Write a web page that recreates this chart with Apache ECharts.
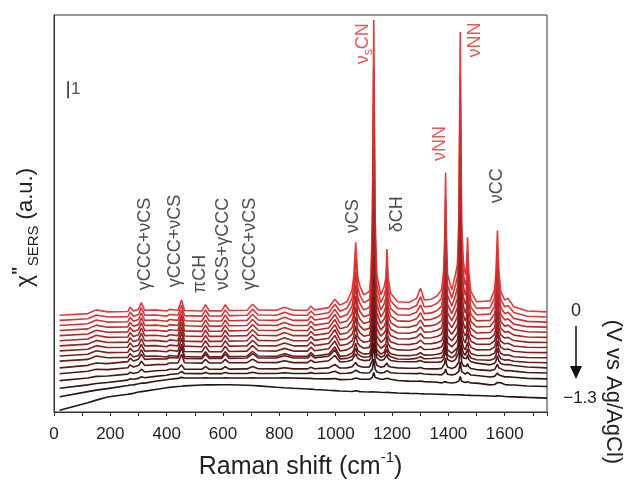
<!DOCTYPE html>
<html>
<head>
<meta charset="utf-8">
<script src="https://cdn.jsdelivr.net/npm/echarts@6/dist/echarts.min.js"></script>
<style>
  html, body { margin: 0; padding: 0; background: #fff; }
  #chart { width: 624px; height: 491px; }
</style>
</head>
<body>
<div id="chart"></div>
<script>
// Raman shift grid (cm-1) shared by all spectra
const ramanShift = [20,120,150,190,262,270,282,300,310,322,360,400,410,440,453,463,525,538,551,595,608,622,685,705,725,790,818,850,900,912,925,975,997,
  1015,1040,1058,1064,1071,1078,1086,1100,1120,1125,1130,1135,1140,1146,1160,1172,1178,1182,1186,1195,
  1220,1260,1287,1301,1314,1340,1360,
  1376,1383,1387,1390,1393,1397,1412,1425,1432,1437,1442,1447,1453,1460,1464,1468,1472,1480,1500,
  1548,1564,1569,1574,1579,1586,1600,1612,1632,1680,1750];

// stacked spectra, 0 V (top) to -1.3 V (bottom) (a.u.)
const spec00 = [5.7,5.8,6.02,5.9,5.92,6.18,5.95,6.05,6.45,6.0,6.02,5.95,6.05,6.0,6.6,5.98,5.95,6.32,5.96,5.96,6.32,5.98,6.0,6.35,6.02,6.0,6.18,6.0,6.0,6.25,6.02,6.15,6.65,
  6.3,6.5,7.2,8.0,10.0,8.0,7.4,6.9,7.1,8.1,11.4,23.1,11.4,8.1,6.9,7.4,7.9,9.6,7.9,7.0,
  6.5,6.45,6.7,7.3,6.6,6.65,6.85,
  7.2,8.3,10.4,14.1,10.4,8.1,7.2,8.1,8.7,11.4,22.4,11.1,8.9,8.1,8.5,10.3,8.3,7.1,6.5,
  6.55,7.2,8.3,10.7,8.3,7.1,6.6,6.7,6.2,5.95,5.9];
const spec01 = [5.4,5.5,5.72,5.6,5.62,5.88,5.65,5.75,6.15,5.7,5.72,5.65,5.75,5.7,6.3,5.68,5.65,6.02,5.66,5.66,6.02,5.68,5.7,6.05,5.72,5.7,5.88,5.7,5.7,5.95,5.72,5.85,6.35,
  5.94,6.11,6.71,7.39,9.09,7.39,6.88,6.45,6.62,7.47,10.28,20.22,10.28,7.47,6.45,6.88,7.3,8.75,7.3,6.54,
  6.11,6.07,6.28,6.79,6.2,6.24,6.41,
  6.71,7.64,9.43,12.57,9.43,7.47,6.71,7.47,7.98,10.28,19.63,10.02,8.15,7.47,7.81,9.34,7.64,6.62,6.11,
  6.15,6.71,7.64,9.68,7.64,6.62,6.2,6.28,5.86,5.64,5.6];
const spec02 = [5.1,5.2,5.42,5.3,5.32,5.58,5.35,5.45,5.85,5.4,5.42,5.35,5.45,5.4,6.0,5.38,5.35,5.72,5.36,5.36,5.72,5.38,5.4,5.75,5.42,5.4,5.58,5.4,5.4,5.65,5.42,5.55,6.05,
  5.59,5.73,6.24,6.81,8.25,6.81,6.38,6.02,6.16,6.88,9.26,17.68,9.26,6.88,6.02,6.38,6.74,7.96,6.74,6.09,
  5.73,5.7,5.88,6.31,5.8,5.84,5.98,
  6.24,7.03,8.54,11.2,8.54,6.88,6.24,6.88,7.32,9.26,17.18,9.04,7.46,6.88,7.17,8.47,7.03,6.16,5.73,
  5.77,6.24,7.03,8.76,7.03,6.16,5.8,5.88,5.52,5.34,5.3];
const spec03 = [4.8,4.9,5.12,5.0,5.02,5.28,5.05,5.15,5.55,5.1,5.12,5.05,5.15,5.1,5.75,5.08,5.05,5.42,5.06,5.06,5.42,5.08,5.1,5.45,5.12,5.1,5.28,5.1,5.1,5.35,5.12,5.25,5.75,
  5.24,5.37,5.79,6.28,7.5,6.28,5.92,5.61,5.73,6.34,8.36,15.49,8.36,6.34,5.61,5.92,6.22,7.26,6.22,5.67,
  5.37,5.34,5.49,5.85,5.43,5.46,5.58,
  5.79,6.46,7.75,10.0,7.75,6.34,5.79,6.34,6.71,8.36,15.07,8.17,6.83,6.34,6.59,7.68,6.46,5.73,5.37,
  5.4,5.79,6.46,7.93,6.46,5.73,5.43,5.49,5.18,5.03,5.0];
const spec04 = [4.5,4.6,4.82,4.7,4.72,4.98,4.75,4.85,5.25,4.8,4.82,4.75,4.85,4.8,5.6,4.78,4.75,5.12,4.76,4.76,5.12,4.78,4.8,5.15,4.82,4.8,4.98,4.8,4.8,5.05,4.82,4.95,5.45,
  4.91,5.01,5.38,5.79,6.83,5.79,5.48,5.22,5.32,5.84,7.56,13.64,7.56,5.84,5.22,5.48,5.74,6.62,5.74,5.27,
  5.01,4.99,5.12,5.43,5.06,5.09,5.19,
  5.38,5.95,7.04,8.96,7.04,5.84,5.38,5.84,6.16,7.56,13.28,7.4,6.26,5.84,6.05,6.99,5.95,5.32,5.01,
  5.04,5.38,5.95,7.2,5.95,5.32,5.06,5.12,4.86,4.73,4.7];
const spec05 = [4.2,4.3,4.52,4.4,4.42,4.68,4.45,4.55,4.95,4.5,4.52,4.45,4.55,4.5,5.3,4.48,4.45,4.82,4.46,4.46,4.82,4.48,4.5,4.85,4.52,4.5,4.68,4.5,4.5,4.75,4.52,4.65,5.15,
  4.58,4.66,4.97,5.32,6.2,5.32,5.06,4.84,4.93,5.37,6.82,11.97,6.82,5.37,4.84,5.06,5.28,6.03,5.28,4.88,
  4.66,4.64,4.75,5.02,4.71,4.73,4.82,
  4.97,5.46,6.38,8.01,6.38,5.37,4.97,5.37,5.63,6.82,11.66,6.69,5.72,5.37,5.54,6.34,5.46,4.93,4.66,
  4.69,4.97,5.46,6.51,5.46,4.93,4.71,4.75,4.53,4.42,4.4];
const spec06 = [3.9,4.0,4.22,4.1,4.12,4.38,4.15,4.25,4.65,4.2,4.22,4.15,4.25,4.2,5.0,4.18,4.15,4.52,4.16,4.16,4.52,4.18,4.2,4.55,4.22,4.2,4.38,4.2,4.2,4.45,4.22,4.35,4.85,
  4.25,4.32,4.58,4.88,5.62,4.88,4.66,4.47,4.54,4.91,6.14,10.46,6.14,4.91,4.47,4.66,4.84,5.47,4.84,4.51,
  4.32,4.3,4.4,4.62,4.36,4.38,4.45,
  4.58,4.99,5.77,7.13,5.77,4.91,4.58,4.91,5.14,6.14,10.21,6.02,5.21,4.91,5.06,5.73,4.99,4.54,4.32,
  4.34,4.58,4.99,5.88,4.99,4.54,4.36,4.4,4.21,4.12,4.1];
const spec07 = [3.6,3.7,3.91,3.8,3.82,4.07,3.85,3.94,4.32,3.9,3.91,3.85,3.94,3.9,4.7,3.88,3.85,4.2,3.86,3.86,4.2,3.88,3.9,4.23,3.91,3.9,4.07,3.9,3.9,4.13,3.91,4.04,4.51,
  3.92,3.99,4.2,4.45,5.07,4.45,4.27,4.11,4.17,4.48,5.51,9.13,5.51,4.48,4.11,4.27,4.42,4.95,4.42,4.14,
  3.99,3.97,4.05,4.23,4.02,4.03,4.09,
  4.2,4.54,5.2,6.34,5.2,4.48,4.2,4.48,4.67,5.51,8.92,5.41,4.73,4.48,4.61,5.16,4.54,4.17,3.99,
  4.0,4.2,4.54,5.29,4.54,4.17,4.02,4.05,3.89,3.82,3.8];
const spec08 = [3.3,3.4,3.61,3.5,3.52,3.75,3.55,3.64,4.0,3.59,3.61,3.55,3.64,3.59,4.35,3.57,3.55,3.88,3.55,3.55,3.88,3.57,3.59,3.91,3.61,3.59,3.75,3.59,3.59,3.82,3.61,3.73,4.18,
  3.6,3.66,3.84,4.05,4.57,4.05,3.89,3.76,3.81,4.07,4.93,7.97,4.93,4.07,3.76,3.89,4.02,4.46,4.02,3.79,
  3.66,3.64,3.71,3.86,3.68,3.7,3.75,
  3.84,4.12,4.67,5.63,4.67,4.07,3.84,4.07,4.23,4.93,7.79,4.85,4.28,4.07,4.18,4.64,4.12,3.81,3.66,
  3.67,3.84,4.12,4.75,4.12,3.81,3.68,3.71,3.58,3.51,3.5];
const spec09 = [3.0,3.1,3.3,3.2,3.22,3.44,3.24,3.33,3.67,3.29,3.3,3.24,3.33,3.29,4.0,3.27,3.24,3.56,3.25,3.25,3.56,3.27,3.29,3.58,3.3,3.29,3.44,3.29,3.29,3.5,3.3,3.41,3.84,
  3.28,3.33,3.47,3.64,4.06,3.64,3.52,3.41,3.45,3.66,4.36,6.81,4.36,3.66,3.41,3.52,3.62,3.98,3.62,3.43,
  3.33,3.32,3.37,3.49,3.35,3.36,3.4,
  3.47,3.7,4.15,4.92,4.15,3.66,3.47,3.66,3.79,4.36,6.67,4.29,3.83,3.66,3.75,4.12,3.7,3.45,3.33,
  3.34,3.47,3.7,4.21,3.7,3.45,3.35,3.37,3.26,3.21,3.2];
const spec10 = [2.6,2.75,2.89,2.85,2.97,3.17,3.01,3.11,3.41,3.1,3.14,3.12,3.21,3.18,3.8,3.16,3.14,3.42,3.15,3.15,3.42,3.16,3.18,3.44,3.19,3.18,3.31,3.18,3.18,3.36,3.19,3.29,3.66,
  3.13,3.16,3.28,3.42,3.76,3.42,3.32,3.23,3.26,3.43,4.0,5.98,4.0,3.43,3.23,3.32,3.4,3.69,3.4,3.25,
  3.12,3.11,3.16,3.26,3.14,3.15,3.18,
  3.2,3.39,3.75,4.37,3.75,3.35,3.2,3.35,3.46,3.92,5.79,3.86,3.49,3.35,3.42,3.73,3.39,3.18,3.08,
  3.05,3.16,3.35,3.76,3.35,3.14,3.06,3.08,2.99,2.93,2.9];
const spec11 = [2.25,2.4,2.52,2.5,2.61,2.78,2.65,2.74,2.99,2.74,2.79,2.81,2.89,2.89,3.4,2.9,2.88,3.1,2.89,2.89,3.1,2.9,2.91,3.12,2.92,2.91,3.02,2.91,2.91,3.06,2.92,3.02,3.33,
  2.95,2.98,3.07,3.17,3.43,3.17,3.1,3.03,3.06,3.19,3.62,5.14,3.62,3.19,3.03,3.1,3.16,3.38,3.16,3.04,
  2.98,2.96,2.97,3.04,2.94,2.93,2.93,
  2.97,3.11,3.39,3.87,3.39,3.09,2.97,3.09,3.16,3.52,4.95,3.48,3.19,3.09,3.14,3.37,3.11,2.96,2.88,
  2.78,2.87,3.01,3.32,3.01,2.86,2.79,2.8,2.74,2.65,2.6];
const spec12 = [1.85,2.0,2.1,2.12,2.23,2.34,2.27,2.34,2.52,2.36,2.43,2.46,2.52,2.53,2.78,2.53,2.52,2.67,2.52,2.52,2.67,2.53,2.54,2.68,2.55,2.54,2.61,2.54,2.54,2.64,2.55,2.6,2.8,
  2.59,2.6,2.67,2.74,2.92,2.74,2.69,2.64,2.66,2.75,3.05,4.1,3.05,2.75,2.64,2.69,2.73,2.88,2.73,2.65,
  2.6,2.58,2.58,2.63,2.55,2.54,2.54,
  2.57,2.67,2.86,3.19,2.86,2.65,2.57,2.65,2.7,2.95,3.94,2.92,2.72,2.65,2.68,2.85,2.67,2.56,2.5,
  2.44,2.5,2.6,2.81,2.6,2.49,2.44,2.45,2.41,2.33,2.3];
const spec13 = [1.4,1.6,1.68,1.74,1.88,1.96,1.93,1.98,2.08,2.02,2.1,2.17,2.21,2.25,2.39,2.27,2.26,2.33,2.26,2.26,2.33,2.27,2.27,2.34,2.27,2.27,2.31,2.27,2.27,2.32,2.27,2.3,2.4,
  2.27,2.28,2.32,2.36,2.46,2.36,2.33,2.3,2.31,2.36,2.53,3.11,2.53,2.36,2.3,2.33,2.35,2.44,2.35,2.31,
  2.28,2.27,2.26,2.28,2.24,2.22,2.21,
  2.19,2.24,2.35,2.53,2.35,2.23,2.19,2.23,2.26,2.4,2.95,2.38,2.27,2.23,2.25,2.34,2.24,2.18,2.15,
  2.06,2.1,2.15,2.3,2.18,2.12,2.07,2.07,2.05,1.98,1.95];
const spec14 = [0.9,1.2,1.29,1.38,1.56,1.59,1.6,1.66,1.7,1.7,1.81,1.9,1.93,1.98,2.04,2.0,2.0,2.02,2.0,2.0,2.02,2.0,2.0,2.02,2.0,2.0,2.01,2.0,1.98,1.98,1.96,1.95,1.97,
  1.91,1.92,1.93,1.95,2.0,1.95,1.94,1.93,1.93,1.96,2.04,2.33,2.04,1.96,1.93,1.94,1.95,1.99,1.95,1.93,
  1.86,1.82,1.81,1.82,1.79,1.77,1.75,
  1.71,1.74,1.79,1.89,1.79,1.74,1.71,1.74,1.75,1.82,2.09,1.81,1.76,1.74,1.75,1.79,1.74,1.71,1.7,
  1.6,1.62,1.66,1.74,1.78,1.72,1.62,1.6,1.59,1.53,1.5];
const spec15 = [0.1,0.55,0.7,0.88,1.05,1.07,1.1,1.18,1.2,1.23,1.33,1.43,1.45,1.5,1.52,1.54,1.59,1.6,1.6,1.61,1.61,1.61,1.58,1.56,1.54,1.46,1.43,1.4,1.36,1.35,1.33,1.28,1.26,
  1.24,1.22,1.21,1.21,1.25,1.21,1.2,1.19,1.18,1.18,1.19,1.22,1.18,1.17,1.16,1.15,1.15,1.16,1.14,1.14,
  1.12,1.1,1.09,1.08,1.07,1.06,1.05,
  1.04,1.04,1.05,1.06,1.04,1.03,1.02,1.02,1.01,1.02,1.05,1.01,1.0,0.99,0.99,0.99,0.98,0.98,0.97,
  0.94,0.93,0.94,0.95,0.95,0.94,0.91,0.9,0.89,0.86,0.82];

const spectra = [spec00, spec01, spec02, spec03, spec04, spec05, spec06, spec07,
  spec08, spec09, spec10, spec11, spec12, spec13, spec14, spec15];

// band assignments written above the peaks
const bandNames = ['γCCC+νCS', 'γCCC+νCS', 'πCH', 'νCS+γCCC', 'γCCC+νCS', 'νCS', 'δCH', 'νCC', '{a|ν}{s|s}{a|CN}', 'νNN', 'νNN'];
const bandX = [323, 429, 518, 599, 695, 1060, 1216, 1574, 1096, 1369, 1493];
const bandY = [7.18, 7.35, 7.0, 7.18, 7.18, 10.53, 10.6, 12.3, 20.5, 14.8, 20.9];
const bandRed = [false, false, false, false, false, false, false, false, true, true, true];

const lineColors = ['#e13b3b', '#d83636', '#cd3232', '#c12e2e', '#b42a2a', '#a72727', '#992323', '#8b2020',
  '#7d1d1d', '#6f1b1b', '#611919', '#531717', '#451616', '#381515', '#2b1414', '#1f1616'];

const FONT = 'Liberation Sans, Arial, sans-serif';
const chart = echarts.init(document.getElementById('chart'));

const seriesList = spectra.map((row, i) => ({
  type: 'line',
  name: 'spec' + i,
  data: row.map((v, k) => [ramanShift[k], v]),
  showSymbol: false,
  smooth: false,
  lineStyle: { color: lineColors[i], width: 1.6 },
  silent: true
}));

// scale bar of 1 a.u.
seriesList.push({
  type: 'line',
  data: [[50, 18.5], [50, 19.5]],
  showSymbol: false,
  lineStyle: { color: '#222', width: 1.5 },
  silent: true
});
seriesList.push({
  type: 'scatter',
  data: [[50, 19.0]],
  symbolSize: 0,
  label: { show: true, formatter: '1', position: 'right', distance: 3, fontSize: 17, color: '#222', fontFamily: FONT },
  silent: true
});

seriesList.push({
  type: 'scatter',
  symbolSize: 0,
  silent: true,
  data: bandNames.map((t, i) => ({
    value: [bandX[i], bandY[i]],
    label: { formatter: t, color: bandRed[i] ? '#d93030' : '#222' }
  })),
  label: {
    show: true,
    position: [0, 0],
    rotate: 90,
    align: 'left',
    verticalAlign: 'middle',
    fontSize: 18,
    fontFamily: FONT,
    rich: {
      a: { fontSize: 18, fontFamily: FONT },
      s: { fontSize: 12, fontFamily: FONT, verticalAlign: 'bottom', lineHeight: 24 }
    }
  }
});

chart.setOption({
  animation: false,
  backgroundColor: '#fff',
  grid: { left: 54, right: 77, top: 15, bottom: 79, outerBoundsMode: 'none', show: true, borderColor: '#333', borderWidth: 1 },
  xAxis: {
    type: 'value',
    min: 0,
    max: 1750,
    interval: 100,
    name: '{t|Raman shift (cm}{sup|-1}{t|)}',
    nameLocation: 'middle',
    nameGap: 38,
    nameTextStyle: {
      rich: {
        t: { fontSize: 25, fontFamily: FONT, color: '#222' },
        sup: { fontSize: 15, fontFamily: FONT, color: '#222', verticalAlign: 'top', lineHeight: 34 }
      }
    },
    axisLine: { lineStyle: { color: '#333', width: 1 } },
    axisTick: { length: 4, lineStyle: { color: '#333' } },
    axisLabel: {
      fontSize: 17,
      fontFamily: FONT,
      color: '#222',
      margin: 14,
      formatter: v => (v % 200 === 0 ? String(v) : '')
    },
    splitLine: { show: false }
  },
  yAxis: {
    type: 'value',
    min: 0,
    max: 23.4,
    name: '{chi|χ}{dp|"}{sub|SERS}{t| (a.u.)}',
    nameLocation: 'middle',
    nameRotate: 90,
    nameGap: 13,
    nameTextStyle: {
      padding: [0, 28, 0, 0],
      rich: {
        chi: { fontSize: 23, fontFamily: FONT, color: '#222' },
        dp: { fontSize: 18, fontFamily: FONT, color: '#222', fontWeight: 'bold', verticalAlign: 'top', lineHeight: 30 },
        sub: { fontSize: 15, fontFamily: FONT, color: '#222', verticalAlign: 'bottom', lineHeight: 30 },
        t: { fontSize: 22, fontFamily: FONT, color: '#222' }
      }
    },
    axisLine: { show: true, lineStyle: { color: '#333' } },
    axisTick: { show: false },
    axisLabel: { show: false },
    splitLine: { show: false }
  },
  graphic: [
    { type: 'text', x: 576, y: 311, style: { text: '0', fontSize: 18, fontFamily: FONT, fill: '#222', align: 'center', verticalAlign: 'middle' } },
    { type: 'line', shape: { x1: 576, y1: 326, x2: 576, y2: 368 }, style: { stroke: '#111', lineWidth: 1.5 } },
    { type: 'polygon', shape: { points: [[570, 366], [582, 366], [576, 379]] }, style: { fill: '#111' } },
    { type: 'text', x: 580, y: 398, style: { text: '−1.3', fontSize: 17, fontFamily: FONT, fill: '#222', align: 'center', verticalAlign: 'middle' } },
    { type: 'text', x: 613, y: 392, rotation: -Math.PI / 2, style: { text: '(V vs Ag/AgCl)', fontSize: 22, fontFamily: FONT, fill: '#222', align: 'center', verticalAlign: 'middle' } }
  ],
  series: seriesList
});
</script>
</body>
</html>
